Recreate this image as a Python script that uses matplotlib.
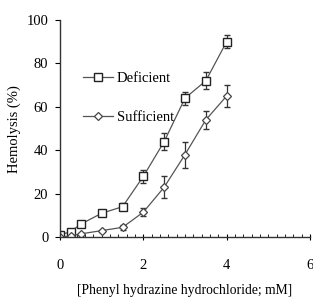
import matplotlib
matplotlib.use("Agg")
import matplotlib.pyplot as plt
from matplotlib.ticker import MultipleLocator

conc = [0, 0.25, 0.5, 1, 1.5, 2, 2.5, 3, 3.5, 4]
deficient = [1, 2.5, 6, 11, 14, 28, 44, 64, 72, 90]
deficient_err = [1, 1, 1, 1.5, 1.5, 3, 4, 3, 4, 3]
sufficient = [0, 0.5, 1.5, 3, 4.5, 11.5, 23, 38, 54, 65]
sufficient_err = [0.5, 0.5, 0.5, 0.5, 1, 2, 5, 6, 4, 5]

xticks = [0, 2, 4, 6]
yticks = [0, 20, 40, 60, 80, 100]

plt.rcParams['font.family'] = ['Liberation Serif', 'DejaVu Serif']

fig = plt.figure(figsize=(3.13, 2.99), dpi=100)
ax = fig.add_axes([0.192, 0.207, 0.798, 0.726])

ax.errorbar(conc, deficient, yerr=deficient_err, fmt='none',
            ecolor='#333333', elinewidth=0.9, capsize=2.5)
ax.errorbar(conc, sufficient, yerr=sufficient_err, fmt='none',
            ecolor='#333333', elinewidth=0.9, capsize=2.5)
ax.plot(conc, deficient, color='#555555', lw=0.9,
        marker='s', ms=6, mfc='white', mec='#222222', mew=1.0, label='Deficient')
ax.plot(conc, sufficient, color='#555555', lw=0.9,
        marker='D', ms=4.5, mfc='white', mec='#444444', mew=0.9, label='Sufficient')

ax.set_xlim(0, 6)
ax.set_ylim(0, 100)
ax.set_xticks(xticks)
ax.set_yticks(yticks)
ax.xaxis.set_minor_locator(MultipleLocator(0.2))
ax.tick_params(axis='x', which='major', direction='inout', length=5, labelsize=10.5, pad=13)
ax.tick_params(axis='x', which='minor', direction='in', length=2.5)
ax.tick_params(axis='y', which='major', direction='out', length=3.5, labelsize=10.5, pad=5)
for s in ['top', 'right']:
    ax.spines[s].set_visible(False)
for s in ['left', 'bottom']:
    ax.spines[s].set_linewidth(1.0)
    ax.spines[s].set_color('#333333')

ax.set_ylabel('Hemolysis (%)', fontsize=10.5, labelpad=4)
ax.set_xlabel('[Phenyl hydrazine hydrochloride; mM]', fontsize=9.8, labelpad=9)

ax.legend(loc='upper left', bbox_to_anchor=(0.07, 0.79), frameon=False,
          fontsize=10.5, handlelength=2.0, labelspacing=1.8, handletextpad=0.3,
          borderaxespad=0)

fig.savefig('out.png', dpi=100)
